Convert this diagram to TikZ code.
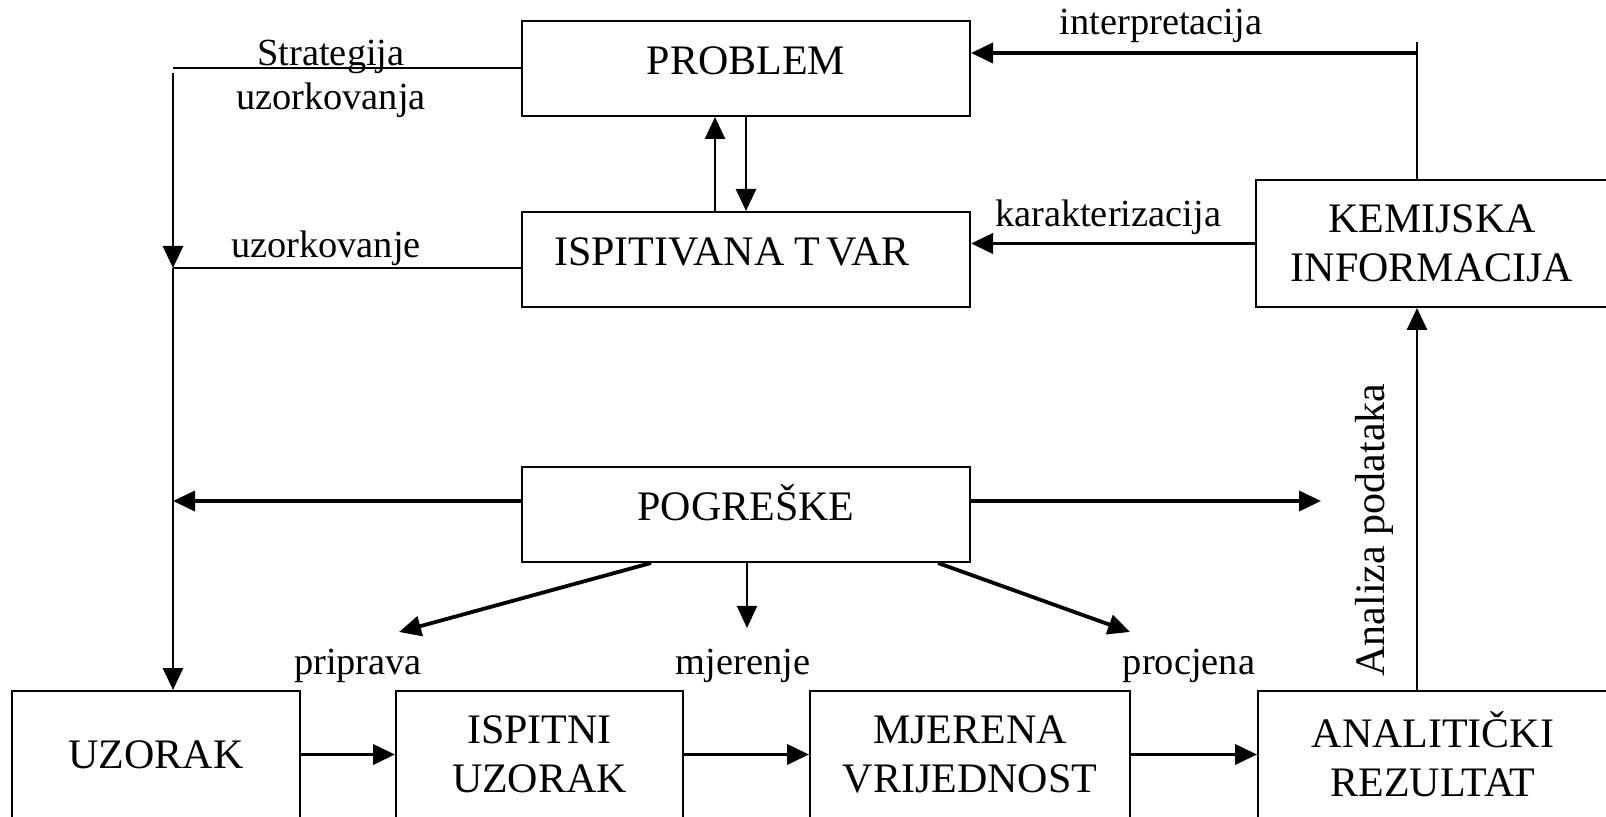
\documentclass[tikz,border=0pt]{standalone}
\usepackage{fontspec}
\setmainfont{Liberation Serif}
\usepackage{tikz}
\usetikzlibrary{arrows.meta}

\tikzset{
  okvir/.style={draw,line width=1pt,inner sep=0pt,font=\fontsize{21}{24.5}\selectfont},
  okvirA/.style={okvir,text height=14pt,text depth=8pt,minimum width=224pt,minimum height=47.5pt},
  okvirB/.style={okvir,align=center,minimum height=63.5pt},
  oznaka/.style={inner sep=0pt,anchor=base,font=\fontsize{19.2}{22}\selectfont},
  tanka/.style={line width=1pt},
  srednja/.style={line width=1.4pt},
  debela/.style={line width=1.9pt}
}

\begin{document}
\begin{tikzpicture}[line join=miter,>={Triangle[length=11pt,width=10pt]},x=0.5pt,y=-0.5pt]
        \useasboundingbox (0,0) rectangle (1606,817);
        \clip (0,0) rectangle (1606,817);
        % okviri
        \node[okvirA] (problem) at (746,68.5) {PROBLEM};
        \node[okvirA] (tvar) at (746,259.5) {ISPITIVANA T\kern3pt VAR\kern14pt};
        \node[okvirA] (pogreske) at (746,514.5) {POGREŠKE};
        \node[okvirB,minimum width=176pt] (info) at (1432,243.5) {KEMIJSKA\\INFORMACIJA};
        \node[okvirB,minimum width=144pt] (uzorak) at (156,754.5) {UZORAK};
        \node[okvirB,minimum width=143.5pt] (ispitni) at (539.5,754.5) {ISPITNI\\UZORAK};
        \node[okvirB,minimum width=160pt] (mjerena) at (970,754.5) {MJERENA\\VRIJEDNOST};
        \node[okvirB,minimum width=175pt] (rezultat) at (1433,754.5) {ANALITIČKI\\REZULTAT};
        % tocke
        \coordinate (sL) at (173,68);
        \coordinate (uL) at (173,268);
        \coordinate (iT) at (1417,42);
        \coordinate (iA) at (1417,53);
        \coordinate (pL) at (173,501);
        \coordinate (pR) at (1321,501);
        \coordinate (dA) at (399,632);
        \coordinate (dB) at (747,628);
        \coordinate (dC) at (1130,632);
        % veze
        \draw[tanka] (problem.west |- sL) -- (sL);
        \draw[srednja,->] ([yshift=-2.5pt]sL) -- (uL);
        \draw[tanka] (tvar.west |- uL) -- (uL);
        \draw[srednja,->] (uL) -- (uL |- uzorak.north);
        \draw[srednja,->] ([xshift=-15.5pt]tvar.north) -- ([xshift=-15.5pt]problem.south);
        \draw[srednja,->] (problem.south) -- (tvar.north);
        \draw[tanka] (iT |- info.north) -- (iT);
        \draw[debela,->] (iA) -- (problem.east |- iA);
        \draw[debela,->] (info.west) -- (tvar.east |- info.west);
        \draw[srednja,->] (iT |- rezultat.north) -- (iT |- info.south);
        \draw[debela,->] (pogreske.west |- pL) -- (pL);
        \draw[debela,->] (pogreske.east |- pR) -- (pR);
        \draw[debela,->] ([xshift=-47.5pt]pogreske.south) -- (dA);
        \draw[tanka,->] (pogreske.south -| dB) -- (dB);
        \draw[debela,->] ([xshift=96pt]pogreske.south) -- (dC);
        \draw[debela,->] (uzorak.east) -- (ispitni.west);
        \draw[debela,->] (ispitni.east) -- (mjerena.west);
        \draw[debela,->] (mjerena.east) -- (rezultat.west);
        % oznake
        \node[oznaka] (strat) at (331,66) {Strategija};
        \node[oznaka] (strat2) at (331,110) {uzorkovanja};
        \node[oznaka] (uzork) at (326,258) {uzorkovanje};
        \node[oznaka] (interp) at (1161,35) {interpretacija};
        \node[oznaka] (karak) at (1108,227) {karakterizacija};
        \node[oznaka] (pripr) at (358,675) {priprava};
        \node[oznaka] (mjer) at (743,675) {mjerenje};
        \node[oznaka] (procj) at (1189,675) {procjena};
        \node[inner sep=0pt,rotate=90,font=\fontsize{21}{24.5}\selectfont] (analiza) at (1374,530) {Analiza podataka};
    \end{tikzpicture}
\end{document}
